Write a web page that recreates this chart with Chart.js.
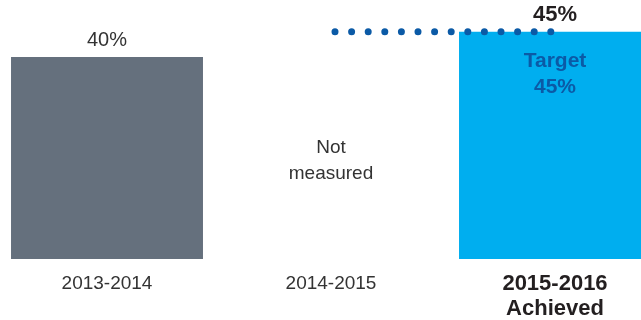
<!DOCTYPE html>
<html>
<head>
<meta charset="utf-8">
<script src="https://cdn.jsdelivr.net/npm/chart.js@4"></script>
<style>
  html, body { margin: 0; padding: 0; background: #fff; }
  #frame { position: relative; width: 641px; height: 320px; overflow: hidden; }
  #plot { position: absolute; left: -5px; top: 0; width: 672px; height: 320px; }
</style>
</head>
<body>
<div id="frame"><div id="plot"><canvas id="c"></canvas></div></div>
<script>
// School years shown along the bottom
const categories = [['2013-2014'], ['2014-2015'], ['2015-2016', 'Achieved']];
// Measured result per year (%); 2014-2015 was not measured
const results = [40, null, 45];
// Target level (%), drawn as a dotted line into the latest year
const target = [null, 45, 45];
// Note written in place of a missing bar
const notes = [null, ['Not', 'measured'], null];
// Bar colours per year
const barColors = ['#65707d', '#65707d', '#00aeef'];

const FONT = '"Liberation Sans", Arial, Helvetica, sans-serif';
const LATEST = categories.length - 1;
const TARGET_BLUE = '#0b5aa6';

// Writes value labels, the target note inside the latest bar and the "not measured" note
const annotate = {
  id: 'annotate',
  afterDatasetsDraw(chart) {
    const ctx = chart.ctx;
    const x = chart.scales.x, y = chart.scales.y;
    const bars = chart.getDatasetMeta(1).data;
    ctx.save();
    ctx.textAlign = 'center';
    ctx.textBaseline = 'middle';
    results.forEach((v, i) => {
      if (v == null) return;
      const bar = bars[i];
      const latest = i === LATEST;
      ctx.font = (latest ? 'bold 22px ' : '20px ') + FONT;
      ctx.fillStyle = latest ? '#231f20' : '#333333';
      ctx.fillText(v + '%', bar.x, bar.y - 17);
    });
    const t = target[LATEST];
    if (t != null) {
      const bar = bars[LATEST];
      const ty = y.getPixelForValue(t);
      ctx.font = 'bold 21px ' + FONT;
      ctx.fillStyle = TARGET_BLUE;
      ctx.fillText('Target', bar.x, ty + 29);
      ctx.fillText(t + '%', bar.x, ty + 55);
    }
    notes.forEach((lines, i) => {
      if (!lines) return;
      const cx = x.getPixelForValue(i);
      ctx.font = '19px ' + FONT;
      ctx.fillStyle = '#333333';
      lines.forEach((s, k) => ctx.fillText(s, cx, y.getPixelForValue(22) + k * 26));
    });
    ctx.restore();
  }
};

new Chart(document.getElementById('c'), {
  type: 'bar',
  data: {
    labels: categories,
    datasets: [
      {
        type: 'line',
        data: target,
        order: 0,
        borderColor: TARGET_BLUE,
        borderWidth: 7,
        borderCapStyle: 'round',
        borderDash: [0, 16.6],
        borderDashOffset: 12.6,
        pointRadius: 0,
        fill: false,
        spanGaps: false
      },
      {
        type: 'bar',
        data: results,
        order: 1,
        backgroundColor: barColors,
        borderWidth: 0,
        categoryPercentage: 1,
        barPercentage: 0.857
      }
    ]
  },
  options: {
    responsive: true,
    maintainAspectRatio: false,
    devicePixelRatio: 1,
    animation: false,
    layout: { padding: 0 },
    plugins: { legend: { display: false }, tooltip: { enabled: false } },
    scales: {
      x: {
        offset: true,
        grid: { display: false, drawTicks: false, tickLength: 0 },
        border: { display: false },
        afterFit(scale) { scale.height = 61; },
        ticks: {
          padding: 12,
          maxRotation: 0,
          autoSkip: false,
          color: (c) => c.index === LATEST ? '#231f20' : '#333333',
          font: (c) => c.index === LATEST
            ? { family: FONT, size: 22, weight: 'bold', lineHeight: '25px' }
            : { family: FONT, size: 19, weight: 'normal', lineHeight: '25px' }
        }
      },
      y: {
        display: false,
        min: 0,
        max: 51.3
      }
    }
  },
  plugins: [annotate]
});
</script>
</body>
</html>
